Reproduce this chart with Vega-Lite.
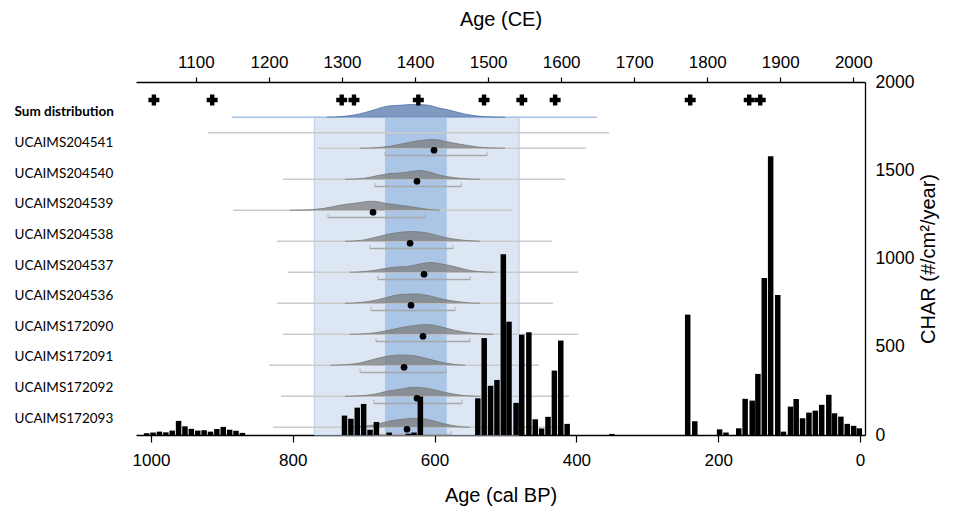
{
  "$schema": "https://vega.github.io/schema/vega-lite/v6.json",
  "width": 729,
  "height": 353,
  "autosize": {"type": "none"},
  "padding": {"left": 136, "top": 82, "right": 106, "bottom": 79},
  "background": "white",
  "config": {
    "view": {"stroke": null},
    "axis": {"labelFont": "Liberation Sans", "titleFont": "Liberation Sans", "labelColor": "#000", "titleColor": "#000", "domainColor": "#000", "tickColor": "#000", "grid": false, "titleFontWeight": "normal"}
  },
  "datasets": {
    "samples": [
      {"s": "Sum distribution", "row": 10.25, "lo": 1148.9, "hi": 1648.9},
      {"s": "extra", "row": 9.75, "lo": 1116.4, "hi": 1665.8},
      {"s": "UCAIMS204541", "row": 9.25, "lo": 1267.1, "hi": 1634.3, "med": 1426.0, "b1": 1358.9, "b2": 1498.6},
      {"s": "UCAIMS204540", "row": 8.25, "lo": 1219.2, "hi": 1605.5, "med": 1402.7, "b1": 1345.2, "b2": 1463.0},
      {"s": "UCAIMS204539", "row": 7.25, "lo": 1150.7, "hi": 1532.9, "med": 1342.5, "b1": 1280.8, "b2": 1413.7},
      {"s": "UCAIMS204538", "row": 6.25, "lo": 1211.0, "hi": 1587.7, "med": 1393.2, "b1": 1338.4, "b2": 1452.1},
      {"s": "UCAIMS204537", "row": 5.25, "lo": 1226.0, "hi": 1623.3, "med": 1412.3, "b1": 1349.3, "b2": 1475.3},
      {"s": "UCAIMS204536", "row": 4.25, "lo": 1211.0, "hi": 1589.0, "med": 1394.5, "b1": 1339.7, "b2": 1454.8},
      {"s": "UCAIMS172090", "row": 3.25, "lo": 1219.2, "hi": 1623.3, "med": 1410.9, "b1": 1346.6, "b2": 1475.3},
      {"s": "UCAIMS172091", "row": 2.25, "lo": 1200.0, "hi": 1569.9, "med": 1385.0, "b1": 1324.7, "b2": 1442.5},
      {"s": "UCAIMS172092", "row": 1.25, "lo": 1216.5, "hi": 1611.0, "med": 1402.7, "b1": 1343.8, "b2": 1464.4},
      {"s": "UCAIMS172093", "row": 0.25, "lo": 1205.5, "hi": 1598.6, "med": 1389.0, "b1": 1343.8, "b2": 1449.3}
    ],
    "bands": [
      {"k": "outer", "lo": 1262.1, "hi": 1542.5},
      {"k": "inner", "lo": 1358.9, "hi": 1443.4}
    ],
    "plus": [
      {"ce": 1042.5}, {"ce": 1122.3}, {"ce": 1299.6}, {"ce": 1316.4}, {"ce": 1404.5}, {"ce": 1494.5},
      {"ce": 1546.2}, {"ce": 1591.8}, {"ce": 1776.7}, {"ce": 1857.5}, {"ce": 1872.6}
    ],
    "dens": [
      {"s": "Sum distribution", "ce": 1279.5, "top": 10.25, "base": 10.25},
      {"s": "Sum distribution", "ce": 1297.3, "top": 10.269, "base": 10.25},
      {"s": "Sum distribution", "ce": 1320.5, "top": 10.337, "base": 10.25},
      {"s": "Sum distribution", "ce": 1342.5, "top": 10.476, "base": 10.25},
      {"s": "Sum distribution", "ce": 1361.6, "top": 10.605, "base": 10.25},
      {"s": "Sum distribution", "ce": 1379.5, "top": 10.637, "base": 10.25},
      {"s": "Sum distribution", "ce": 1397.3, "top": 10.66, "base": 10.25},
      {"s": "Sum distribution", "ce": 1416.4, "top": 10.644, "base": 10.25},
      {"s": "Sum distribution", "ce": 1434.3, "top": 10.54, "base": 10.25},
      {"s": "Sum distribution", "ce": 1443.8, "top": 10.498, "base": 10.25},
      {"s": "Sum distribution", "ce": 1461.7, "top": 10.389, "base": 10.25},
      {"s": "Sum distribution", "ce": 1479.5, "top": 10.305, "base": 10.25},
      {"s": "Sum distribution", "ce": 1498.6, "top": 10.266, "base": 10.25},
      {"s": "Sum distribution", "ce": 1523.3, "top": 10.25, "base": 10.25},

      {"s": "UCAIMS204541", "ce": 1324.7, "top": 9.25, "base": 9.25},
      {"s": "UCAIMS204541", "ce": 1347.9, "top": 9.269, "base": 9.25},
      {"s": "UCAIMS204541", "ce": 1365.8, "top": 9.315, "base": 9.25},
      {"s": "UCAIMS204541", "ce": 1379.5, "top": 9.379, "base": 9.25},
      {"s": "UCAIMS204541", "ce": 1393.2, "top": 9.444, "base": 9.25},
      {"s": "UCAIMS204541", "ce": 1402.7, "top": 9.485, "base": 9.25},
      {"s": "UCAIMS204541", "ce": 1413.7, "top": 9.518, "base": 9.25},
      {"s": "UCAIMS204541", "ce": 1420.6, "top": 9.531, "base": 9.25},
      {"s": "UCAIMS204541", "ce": 1430.1, "top": 9.524, "base": 9.25},
      {"s": "UCAIMS204541", "ce": 1438.4, "top": 9.485, "base": 9.25},
      {"s": "UCAIMS204541", "ce": 1450.7, "top": 9.427, "base": 9.25},
      {"s": "UCAIMS204541", "ce": 1461.7, "top": 9.379, "base": 9.25},
      {"s": "UCAIMS204541", "ce": 1475.3, "top": 9.327, "base": 9.25},
      {"s": "UCAIMS204541", "ce": 1484.9, "top": 9.292, "base": 9.25},
      {"s": "UCAIMS204541", "ce": 1502.7, "top": 9.263, "base": 9.25},
      {"s": "UCAIMS204541", "ce": 1523.3, "top": 9.25, "base": 9.25},

      {"s": "UCAIMS204540", "ce": 1304.1, "top": 8.25, "base": 8.25},
      {"s": "UCAIMS204540", "ce": 1324.7, "top": 8.266, "base": 8.25},
      {"s": "UCAIMS204540", "ce": 1338.4, "top": 8.315, "base": 8.25},
      {"s": "UCAIMS204540", "ce": 1347.9, "top": 8.363, "base": 8.25},
      {"s": "UCAIMS204540", "ce": 1365.8, "top": 8.434, "base": 8.25},
      {"s": "UCAIMS204540", "ce": 1379.5, "top": 8.453, "base": 8.25},
      {"s": "UCAIMS204540", "ce": 1397.3, "top": 8.508, "base": 8.25},
      {"s": "UCAIMS204540", "ce": 1406.8, "top": 8.531, "base": 8.25},
      {"s": "UCAIMS204540", "ce": 1420.6, "top": 8.476, "base": 8.25},
      {"s": "UCAIMS204540", "ce": 1434.3, "top": 8.379, "base": 8.25},
      {"s": "UCAIMS204540", "ce": 1452.1, "top": 8.305, "base": 8.25},
      {"s": "UCAIMS204540", "ce": 1471.2, "top": 8.263, "base": 8.25},
      {"s": "UCAIMS204540", "ce": 1489.0, "top": 8.25, "base": 8.25},

      {"s": "UCAIMS204539", "ce": 1228.8, "top": 7.25, "base": 7.25},
      {"s": "UCAIMS204539", "ce": 1256.2, "top": 7.266, "base": 7.25},
      {"s": "UCAIMS204539", "ce": 1274.0, "top": 7.305, "base": 7.25},
      {"s": "UCAIMS204539", "ce": 1297.3, "top": 7.411, "base": 7.25},
      {"s": "UCAIMS204539", "ce": 1320.5, "top": 7.485, "base": 7.25},
      {"s": "UCAIMS204539", "ce": 1342.5, "top": 7.54, "base": 7.25},
      {"s": "UCAIMS204539", "ce": 1361.6, "top": 7.466, "base": 7.25},
      {"s": "UCAIMS204539", "ce": 1379.5, "top": 7.411, "base": 7.25},
      {"s": "UCAIMS204539", "ce": 1397.3, "top": 7.356, "base": 7.25},
      {"s": "UCAIMS204539", "ce": 1416.4, "top": 7.282, "base": 7.25},
      {"s": "UCAIMS204539", "ce": 1434.3, "top": 7.25, "base": 7.25},

      {"s": "UCAIMS204538", "ce": 1304.1, "top": 6.25, "base": 6.25},
      {"s": "UCAIMS204538", "ce": 1324.7, "top": 6.273, "base": 6.25},
      {"s": "UCAIMS204538", "ce": 1342.5, "top": 6.356, "base": 6.25},
      {"s": "UCAIMS204538", "ce": 1361.6, "top": 6.466, "base": 6.25},
      {"s": "UCAIMS204538", "ce": 1379.5, "top": 6.54, "base": 6.25},
      {"s": "UCAIMS204538", "ce": 1397.3, "top": 6.563, "base": 6.25},
      {"s": "UCAIMS204538", "ce": 1416.4, "top": 6.518, "base": 6.25},
      {"s": "UCAIMS204538", "ce": 1434.3, "top": 6.411, "base": 6.25},
      {"s": "UCAIMS204538", "ce": 1452.1, "top": 6.324, "base": 6.25},
      {"s": "UCAIMS204538", "ce": 1471.2, "top": 6.273, "base": 6.25},
      {"s": "UCAIMS204538", "ce": 1489.0, "top": 6.25, "base": 6.25},

      {"s": "UCAIMS204537", "ce": 1310.9, "top": 5.25, "base": 5.25},
      {"s": "UCAIMS204537", "ce": 1331.5, "top": 5.273, "base": 5.25},
      {"s": "UCAIMS204537", "ce": 1347.9, "top": 5.324, "base": 5.25},
      {"s": "UCAIMS204537", "ce": 1369.9, "top": 5.411, "base": 5.25},
      {"s": "UCAIMS204537", "ce": 1389.0, "top": 5.434, "base": 5.25},
      {"s": "UCAIMS204537", "ce": 1406.8, "top": 5.518, "base": 5.25},
      {"s": "UCAIMS204537", "ce": 1420.6, "top": 5.563, "base": 5.25},
      {"s": "UCAIMS204537", "ce": 1438.4, "top": 5.508, "base": 5.25},
      {"s": "UCAIMS204537", "ce": 1457.5, "top": 5.411, "base": 5.25},
      {"s": "UCAIMS204537", "ce": 1475.3, "top": 5.305, "base": 5.25},
      {"s": "UCAIMS204537", "ce": 1493.1, "top": 5.263, "base": 5.25},
      {"s": "UCAIMS204537", "ce": 1509.6, "top": 5.25, "base": 5.25},

      {"s": "UCAIMS204536", "ce": 1304.1, "top": 4.25, "base": 4.25},
      {"s": "UCAIMS204536", "ce": 1324.7, "top": 4.273, "base": 4.25},
      {"s": "UCAIMS204536", "ce": 1347.9, "top": 4.356, "base": 4.25},
      {"s": "UCAIMS204536", "ce": 1365.8, "top": 4.466, "base": 4.25},
      {"s": "UCAIMS204536", "ce": 1383.6, "top": 4.54, "base": 4.25},
      {"s": "UCAIMS204536", "ce": 1402.7, "top": 4.55, "base": 4.25},
      {"s": "UCAIMS204536", "ce": 1420.6, "top": 4.485, "base": 4.25},
      {"s": "UCAIMS204536", "ce": 1438.4, "top": 4.379, "base": 4.25},
      {"s": "UCAIMS204536", "ce": 1457.5, "top": 4.305, "base": 4.25},
      {"s": "UCAIMS204536", "ce": 1475.3, "top": 4.26, "base": 4.25},
      {"s": "UCAIMS204536", "ce": 1489.0, "top": 4.25, "base": 4.25},

      {"s": "UCAIMS172090", "ce": 1310.9, "top": 3.25, "base": 3.25},
      {"s": "UCAIMS172090", "ce": 1331.5, "top": 3.266, "base": 3.25},
      {"s": "UCAIMS172090", "ce": 1347.9, "top": 3.305, "base": 3.25},
      {"s": "UCAIMS172090", "ce": 1365.8, "top": 3.389, "base": 3.25},
      {"s": "UCAIMS172090", "ce": 1383.6, "top": 3.476, "base": 3.25},
      {"s": "UCAIMS172090", "ce": 1402.7, "top": 3.54, "base": 3.25},
      {"s": "UCAIMS172090", "ce": 1416.4, "top": 3.563, "base": 3.25},
      {"s": "UCAIMS172090", "ce": 1434.3, "top": 3.498, "base": 3.25},
      {"s": "UCAIMS172090", "ce": 1452.1, "top": 3.389, "base": 3.25},
      {"s": "UCAIMS172090", "ce": 1471.2, "top": 3.305, "base": 3.25},
      {"s": "UCAIMS172090", "ce": 1489.0, "top": 3.263, "base": 3.25},
      {"s": "UCAIMS172090", "ce": 1506.9, "top": 3.25, "base": 3.25},

      {"s": "UCAIMS172091", "ce": 1283.6, "top": 2.25, "base": 2.25},
      {"s": "UCAIMS172091", "ce": 1301.4, "top": 2.266, "base": 2.25},
      {"s": "UCAIMS172091", "ce": 1324.7, "top": 2.324, "base": 2.25},
      {"s": "UCAIMS172091", "ce": 1342.5, "top": 2.434, "base": 2.25},
      {"s": "UCAIMS172091", "ce": 1361.6, "top": 2.54, "base": 2.25},
      {"s": "UCAIMS172091", "ce": 1379.5, "top": 2.582, "base": 2.25},
      {"s": "UCAIMS172091", "ce": 1397.3, "top": 2.563, "base": 2.25},
      {"s": "UCAIMS172091", "ce": 1416.4, "top": 2.466, "base": 2.25},
      {"s": "UCAIMS172091", "ce": 1434.3, "top": 2.356, "base": 2.25},
      {"s": "UCAIMS172091", "ce": 1452.1, "top": 2.282, "base": 2.25},
      {"s": "UCAIMS172091", "ce": 1468.5, "top": 2.25, "base": 2.25},

      {"s": "UCAIMS172092", "ce": 1304.1, "top": 1.25, "base": 1.25},
      {"s": "UCAIMS172092", "ce": 1324.7, "top": 1.266, "base": 1.25},
      {"s": "UCAIMS172092", "ce": 1342.5, "top": 1.305, "base": 1.25},
      {"s": "UCAIMS172092", "ce": 1361.6, "top": 1.411, "base": 1.25},
      {"s": "UCAIMS172092", "ce": 1379.5, "top": 1.476, "base": 1.25},
      {"s": "UCAIMS172092", "ce": 1397.3, "top": 1.54, "base": 1.25},
      {"s": "UCAIMS172092", "ce": 1416.4, "top": 1.508, "base": 1.25},
      {"s": "UCAIMS172092", "ce": 1434.3, "top": 1.411, "base": 1.25},
      {"s": "UCAIMS172092", "ce": 1452.1, "top": 1.324, "base": 1.25},
      {"s": "UCAIMS172092", "ce": 1471.2, "top": 1.263, "base": 1.25},
      {"s": "UCAIMS172092", "ce": 1489.0, "top": 1.25, "base": 1.25},

      {"s": "UCAIMS172093", "ce": 1310.9, "top": 0.25, "base": 0.25},
      {"s": "UCAIMS172093", "ce": 1328.8, "top": 0.273, "base": 0.25},
      {"s": "UCAIMS172093", "ce": 1347.9, "top": 0.347, "base": 0.25},
      {"s": "UCAIMS172093", "ce": 1365.8, "top": 0.453, "base": 0.25},
      {"s": "UCAIMS172093", "ce": 1383.6, "top": 0.508, "base": 0.25},
      {"s": "UCAIMS172093", "ce": 1402.7, "top": 0.54, "base": 0.25},
      {"s": "UCAIMS172093", "ce": 1420.6, "top": 0.485, "base": 0.25},
      {"s": "UCAIMS172093", "ce": 1438.4, "top": 0.369, "base": 0.25},
      {"s": "UCAIMS172093", "ce": 1457.5, "top": 0.282, "base": 0.25},
      {"s": "UCAIMS172093", "ce": 1475.3, "top": 0.25, "base": 0.25}
    ],
    "char": [
      {"bp": 1006, "v": 10}, {"bp": 997, "v": 14}, {"bp": 988, "v": 19}, {"bp": 979, "v": 15}, {"bp": 970, "v": 25},
      {"bp": 961, "v": 80}, {"bp": 952, "v": 49}, {"bp": 943, "v": 35}, {"bp": 934, "v": 25}, {"bp": 925, "v": 27},
      {"bp": 916, "v": 19}, {"bp": 907, "v": 34}, {"bp": 898, "v": 46}, {"bp": 889, "v": 30}, {"bp": 880, "v": 24},
      {"bp": 871, "v": 12},
      {"bp": 727, "v": 110}, {"bp": 718, "v": 92}, {"bp": 709, "v": 155}, {"bp": 700, "v": 176}, {"bp": 691, "v": 30},
      {"bp": 682, "v": 74}, {"bp": 664, "v": 14}, {"bp": 637, "v": 7}, {"bp": 629, "v": 14}, {"bp": 620, "v": 218},
      {"bp": 539, "v": 208}, {"bp": 530, "v": 549}, {"bp": 521, "v": 279}, {"bp": 512, "v": 312}, {"bp": 503, "v": 1024},
      {"bp": 495, "v": 642}, {"bp": 485, "v": 182}, {"bp": 477, "v": 568}, {"bp": 467, "v": 582}, {"bp": 458, "v": 89},
      {"bp": 449, "v": 37}, {"bp": 440, "v": 103}, {"bp": 431, "v": 365}, {"bp": 422, "v": 535}, {"bp": 413, "v": 63},
      {"bp": 350, "v": 6},
      {"bp": 243, "v": 682}, {"bp": 233, "v": 78}, {"bp": 198, "v": 32}, {"bp": 189, "v": 14}, {"bp": 171, "v": 38},
      {"bp": 162, "v": 205}, {"bp": 152, "v": 195}, {"bp": 144, "v": 346}, {"bp": 135, "v": 890}, {"bp": 126, "v": 1579},
      {"bp": 116, "v": 793}, {"bp": 108, "v": 19}, {"bp": 98, "v": 161}, {"bp": 90, "v": 204}, {"bp": 81, "v": 95},
      {"bp": 72, "v": 127}, {"bp": 63, "v": 138}, {"bp": 54, "v": 171}, {"bp": 44, "v": 228}, {"bp": 36, "v": 123},
      {"bp": 27, "v": 104}, {"bp": 18, "v": 63}, {"bp": 9, "v": 52}, {"bp": 1, "v": 38}
    ]
  },
  "layer": [
    {
      "layer": [
        {
          "data": {"name": "samples"},
          "transform": [{"filter": "datum.s != 'extra'"}],
          "mark": {"type": "point", "opacity": 0},
          "encoding": {
            "y": {
              "field": "s", "type": "nominal", "sort": null,
              "scale": {"type": "point", "range": [29.7, 336.3], "padding": 0},
              "axis": {
                "orient": "left", "title": null, "domain": false, "ticks": false,
                "labelAlign": "left", "labelPadding": 122, "labelFont": "Lato", "labelFontSize": 13.5,
                "labelFontWeight": {"condition": {"test": "datum.value == 'Sum distribution'", "value": "bold"}, "value": "normal"}
              }
            }
          }
        },
        {
          "layer": [
            {
              "data": {"name": "bands"},
              "transform": [{"filter": "datum.k == 'outer'"}],
              "mark": {"type": "rect", "fill": "#dde7f3", "stroke": "#b9cde8", "strokeWidth": 1},
              "encoding": {
                "x": {
                  "field": "lo", "type": "quantitative", "title": "Age (CE)",
                  "scale": {"domain": [1018, 2016], "nice": false, "zero": false},
                  "axis": {
                    "orient": "top", "values": [1100, 1200, 1300, 1400, 1500, 1600, 1700, 1800, 1900, 2000],
                    "format": "d", "tickSize": 5, "tickWidth": 1.2, "domainWidth": 1.3, "labelPadding": 6,
                    "labelFontSize": 17, "titleFontSize": 20, "titlePadding": 24, "labelFlush": false
                  }
                },
                "x2": {"field": "hi"},
                "y": {"datum": 10.25, "type": "quantitative", "scale": {"domain": [0, 11.387], "nice": false, "zero": false}, "axis": null},
                "y2": {"datum": 0}
              }
            },
            {
              "data": {"name": "bands"},
              "transform": [{"filter": "datum.k == 'inner'"}],
              "mark": {"type": "rect", "fill": "#abc5e7"},
              "encoding": {
                "x": {"field": "lo", "type": "quantitative", "title": "Age (CE)"},
                "x2": {"field": "hi"},
                "y": {"datum": 10.25, "type": "quantitative", "axis": null},
                "y2": {"datum": 0}
              }
            },
            {
              "data": {"name": "samples"},
              "mark": {"type": "rule", "strokeWidth": 1.5},
              "encoding": {
                "x": {"field": "lo", "type": "quantitative", "title": "Age (CE)"},
                "x2": {"field": "hi"},
                "y": {"field": "row", "type": "quantitative", "axis": null},
                "color": {"condition": {"test": "datum.s == 'Sum distribution'", "value": "#a9c2e4"}, "value": "#cbcbcb"}
              }
            },
            {
              "data": {"name": "dens"},
              "mark": {"type": "area", "interpolate": "monotone", "line": {"color": "#d6d6d6", "strokeWidth": 0.8}},
              "encoding": {
                "x": {"field": "ce", "type": "quantitative", "title": "Age (CE)"},
                "y": {"field": "top", "type": "quantitative", "axis": null},
                "y2": {"field": "base"},
                "detail": {"field": "s"},
                "color": {"condition": {"test": "datum.s == 'Sum distribution'", "value": "#4a6ea6"}, "value": "#767676"}
              }
            },
            {
              "data": {"name": "samples"},
              "transform": [{"filter": "isValid(datum.med)"}],
              "mark": {"type": "rule", "strokeWidth": 1.5, "color": "#a8a8a8", "yOffset": 7.3},
              "encoding": {
                "x": {"field": "b1", "type": "quantitative", "title": "Age (CE)"},
                "x2": {"field": "b2"},
                "y": {"field": "row", "type": "quantitative", "axis": null}
              }
            },
            {
              "data": {"name": "samples"},
              "transform": [{"filter": "isValid(datum.med)"}, {"fold": ["b1", "b2"], "as": ["end", "endce"]}],
              "mark": {"type": "tick", "orient": "vertical", "size": 4, "thickness": 1.2, "color": "#a8a8a8", "yOffset": 5.5},
              "encoding": {
                "x": {"field": "endce", "type": "quantitative", "title": "Age (CE)"},
                "y": {"field": "row", "type": "quantitative", "axis": null}
              }
            },
            {
              "data": {"name": "samples"},
              "transform": [{"filter": "isValid(datum.med)"}],
              "mark": {"type": "point", "filled": true, "color": "#000", "size": 45, "opacity": 1, "yOffset": 2},
              "encoding": {
                "x": {"field": "med", "type": "quantitative", "title": "Age (CE)"},
                "y": {"field": "row", "type": "quantitative", "axis": null}
              }
            },
            {
              "data": {"name": "plus"},
              "mark": {"type": "point", "shape": "cross", "filled": true, "color": "#000", "size": 120, "opacity": 1},
              "encoding": {
                "x": {"field": "ce", "type": "quantitative", "title": "Age (CE)"},
                "y": {"datum": 10.806, "type": "quantitative", "axis": null}
              }
            }
          ]
        }
      ],
      "resolve": {"scale": {"y": "independent"}}
    },
    {
      "data": {"name": "char"},
      "mark": {"type": "bar", "orient": "vertical", "size": 5.5, "color": "#000", "clip": true},
      "encoding": {
        "x": {
          "field": "bp", "type": "quantitative", "title": "Age (cal BP)",
          "scale": {"domain": [0, 1014], "reverse": true, "nice": false, "zero": false},
          "axis": {
            "orient": "bottom", "values": [0, 200, 400, 600, 800, 1000], "format": "d",
            "tickSize": 7, "tickWidth": 1.2, "domainWidth": 1.5, "labelPadding": 10,
            "labelFontSize": 17, "titleFontSize": 20, "titlePadding": 17, "labelFlush": false
          }
        },
        "y": {
          "field": "v", "type": "quantitative", "title": "CHAR (#/cm²/year)",
          "scale": {"domain": [0, 2000], "nice": false},
          "axis": {
            "orient": "right", "values": [0, 500, 1000, 1500, 2000], "format": "d", "ticks": false,
            "labelPadding": 10, "labelFontSize": 17.5, "titleFontSize": 20, "titleAngle": 270,
            "titleBaseline": "top", "titlePadding": 5, "domainWidth": 1.3, "labelFlush": false
          }
        }
      }
    }
  ],
  "resolve": {"scale": {"x": "independent", "y": "independent"}}
}
